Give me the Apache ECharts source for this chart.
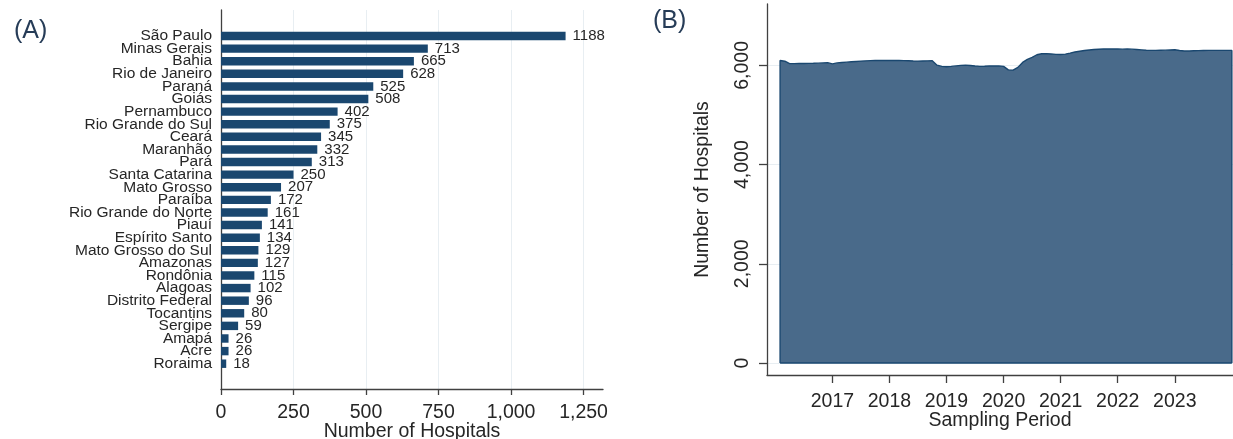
<!DOCTYPE html>
<html>
<head>
<meta charset="utf-8">
<script src="https://cdn.jsdelivr.net/npm/echarts@6/dist/echarts.min.js"></script>
<style>
html,body{margin:0;padding:0;background:#fff;}
#chart{width:1233px;height:439px;}
</style>
</head>
<body>
<div id="chart"></div>
<script>
// ---- Panel A data ----
const states = ['São Paulo','Minas Gerais','Bahia','Rio de Janeiro','Paraná','Goiás','Pernambuco','Rio Grande do Sul','Ceará','Maranhão','Pará','Santa Catarina','Mato Grosso','Paraíba','Rio Grande do Norte','Piauí','Espírito Santo','Mato Grosso do Sul','Amazonas','Rondônia','Alagoas','Distrito Federal','Tocantins','Sergipe','Amapá','Acre','Roraima'];
const hospitals = [1188,713,665,628,525,508,402,375,345,332,313,250,207,172,161,141,134,129,127,115,102,96,80,59,26,26,18];
const xTicksA = [0,250,500,750,1000,1250];

// ---- Panel B data ----
const months = [
  '2016-02','2016-03','2016-04','2016-05','2016-06','2016-07','2016-08','2016-09','2016-10','2016-11','2016-12',
  '2017-01','2017-02','2017-03','2017-04','2017-05','2017-06','2017-07','2017-08','2017-09','2017-10','2017-11','2017-12',
  '2018-01','2018-02','2018-03','2018-04','2018-05','2018-06','2018-07','2018-08','2018-09','2018-10','2018-11','2018-12',
  '2019-01','2019-02','2019-03','2019-04','2019-05','2019-06','2019-07','2019-08','2019-09','2019-10','2019-11','2019-12',
  '2020-01','2020-02','2020-03','2020-04','2020-05','2020-06','2020-07','2020-08','2020-09','2020-10','2020-11','2020-12',
  '2021-01','2021-02','2021-03','2021-04','2021-05','2021-06','2021-07','2021-08','2021-09','2021-10','2021-11','2021-12',
  '2022-01','2022-02','2022-03','2022-04','2022-05','2022-06','2022-07','2022-08','2022-09','2022-10','2022-11','2022-12',
  '2023-01','2023-02','2023-03','2023-04','2023-05','2023-06','2023-07','2023-08','2023-09','2023-10','2023-11','2023-12',
  '2024-01'
];
const hospitalCount = [
  6100,6085,6035,6035,6037,6038,6040,6042,6045,6050,6055,
  6030,6050,6058,6066,6073,6080,6087,6092,6096,6100,6102,6100,
  6101,6100,6099,6097,6094,6090,6087,6090,6092,6093,6005,5980,
  5973,5980,5990,6000,6005,5998,5988,5980,5983,5987,5990,5988,
  5980,5910,5905,5960,6060,6120,6160,6215,6235,6238,6230,6222,
  6220,6228,6248,6270,6285,6300,6310,6320,6326,6330,6330,6332,
  6330,6328,6330,6328,6322,6314,6305,6302,6302,6305,6308,6312,
  6316,6300,6290,6290,6295,6298,6300,6302,6302,6302,6302,6302,
  6302
];
const xTicksB = [2017,2018,2019,2020,2021,2022,2023];
const yTicksB = [0,2000,4000,6000];

// month label -> decimal year on the axis
function toYear(m){ const p = m.split('-'); return +p[0] + (+p[1]-1)/12; }
const areaData = months.map((m,i)=>[toYear(m), hospitalCount[i]]);
const x0 = toYear(months[0]), x1 = toYear(months[months.length-1]);
const areaFull = [[x0,0]].concat(areaData, [[x1,0]]);

const FONT = "'Liberation Sans', Arial, sans-serif";
const TXT = '#262626';
const AX = '#404040';
const GRIDC = '#e8eef2';
const NAVY = '#1a476f';
const fmt = v => Math.round(v).toLocaleString('en-US');

const chart = echarts.init(document.getElementById('chart'), null, {renderer:'canvas'});
chart.setOption({
  animation:false,
  textStyle:{fontFamily:FONT},
  title:[
    {text:'(A)', left:9, top:14, textStyle:{fontFamily:FONT, fontSize:25, fontWeight:'normal', color:'#263c57'}},
    {text:'(B)', left:648, top:4, textStyle:{fontFamily:FONT, fontSize:25, fontWeight:'normal', color:'#263c57'}}
  ],
  grid:[
    {left:221, top:10, width:382, height:379, containLabel:false, outerBoundsMode:'none'},
    {left:221, top:29.7, width:382, height:340.3, containLabel:false, outerBoundsMode:'none'},
    {left:767, top:4, width:466, height:371, containLabel:false, outerBoundsMode:'none'}
  ],
  xAxis:[
    {type:'value', gridIndex:0, min:0, max:1317,
     axisLine:{show:true, onZero:false, lineStyle:{color:AX, width:1.3}},
     axisTick:{show:true, length:6, lineStyle:{color:AX, width:1.3}, customValues:xTicksA},
     axisLabel:{show:true, customValues:xTicksA, formatter:fmt, fontSize:19.5, color:TXT, margin:14, fontFamily:FONT},
     splitLine:{show:true, lineStyle:{color:GRIDC, width:1}},
     name:'Number of Hospitals', nameLocation:'middle', nameGap:33, nameMoveOverlap:false,
     nameTextStyle:{fontSize:19.5, color:TXT, fontFamily:FONT}},
    {type:'value', gridIndex:1, min:0, max:1317, show:false},
    {type:'value', gridIndex:2, min:2015.854, max:2024.02,
     axisLine:{show:true, onZero:false, lineStyle:{color:AX, width:1.3}},
     axisTick:{show:true, length:8, lineStyle:{color:AX, width:1.3}, customValues:xTicksB},
     axisLabel:{show:true, customValues:xTicksB, formatter:v=>String(Math.round(v)), fontSize:19.5, color:TXT, margin:17, fontFamily:FONT},
     splitLine:{show:false},
     name:'Sampling Period', nameLocation:'middle', nameGap:36, nameMoveOverlap:false,
     nameTextStyle:{fontSize:19.5, color:TXT, fontFamily:FONT}}
  ],
  yAxis:[
    {type:'value', gridIndex:0, min:0, max:1,
     axisLine:{show:true, onZero:false, lineStyle:{color:AX, width:1.3}},
     axisTick:{show:false}, axisLabel:{show:false}, splitLine:{show:false}},
    {type:'category', gridIndex:1, data:states, inverse:true,
     axisLine:{show:false}, axisTick:{show:false},
     axisLabel:{show:true, interval:0, fontSize:15.5, color:TXT, margin:9, fontFamily:FONT}},
    {type:'value', gridIndex:2, min:-242, max:7238,
     axisLine:{show:true, onZero:false, lineStyle:{color:AX, width:1.3}},
     axisTick:{show:true, length:8, lineStyle:{color:AX, width:1.3}, customValues:yTicksB},
     axisLabel:{show:true, customValues:yTicksB, formatter:fmt, rotate:90, fontSize:19.5, color:TXT, margin:14, fontFamily:FONT},
     splitLine:{show:true, lineStyle:{color:GRIDC, width:1}},
     name:'Number of Hospitals', nameLocation:'middle', nameGap:54, nameRotate:90,
     nameTextStyle:{fontSize:19.5, color:TXT, fontFamily:FONT}}
  ],
  series:[
    {type:'bar', xAxisIndex:1, yAxisIndex:1, data:hospitals, barCategoryGap:'33%',
     itemStyle:{color:NAVY},
     label:{show:true, position:'right', distance:7, fontSize:15, color:TXT, fontFamily:FONT}},
    {type:'line', xAxisIndex:2, yAxisIndex:2, data:areaFull, showSymbol:false, symbol:'none',
     lineStyle:{color:NAVY, width:1.4},
     areaStyle:{color:'#496a8a', opacity:1, origin:0}},
    {type:'line', xAxisIndex:2, yAxisIndex:2, data:[[x0,0],[x1,0]], showSymbol:false, symbol:'none',
     lineStyle:{color:NAVY, width:1.4}}
  ]
});
</script>
</body>
</html>
